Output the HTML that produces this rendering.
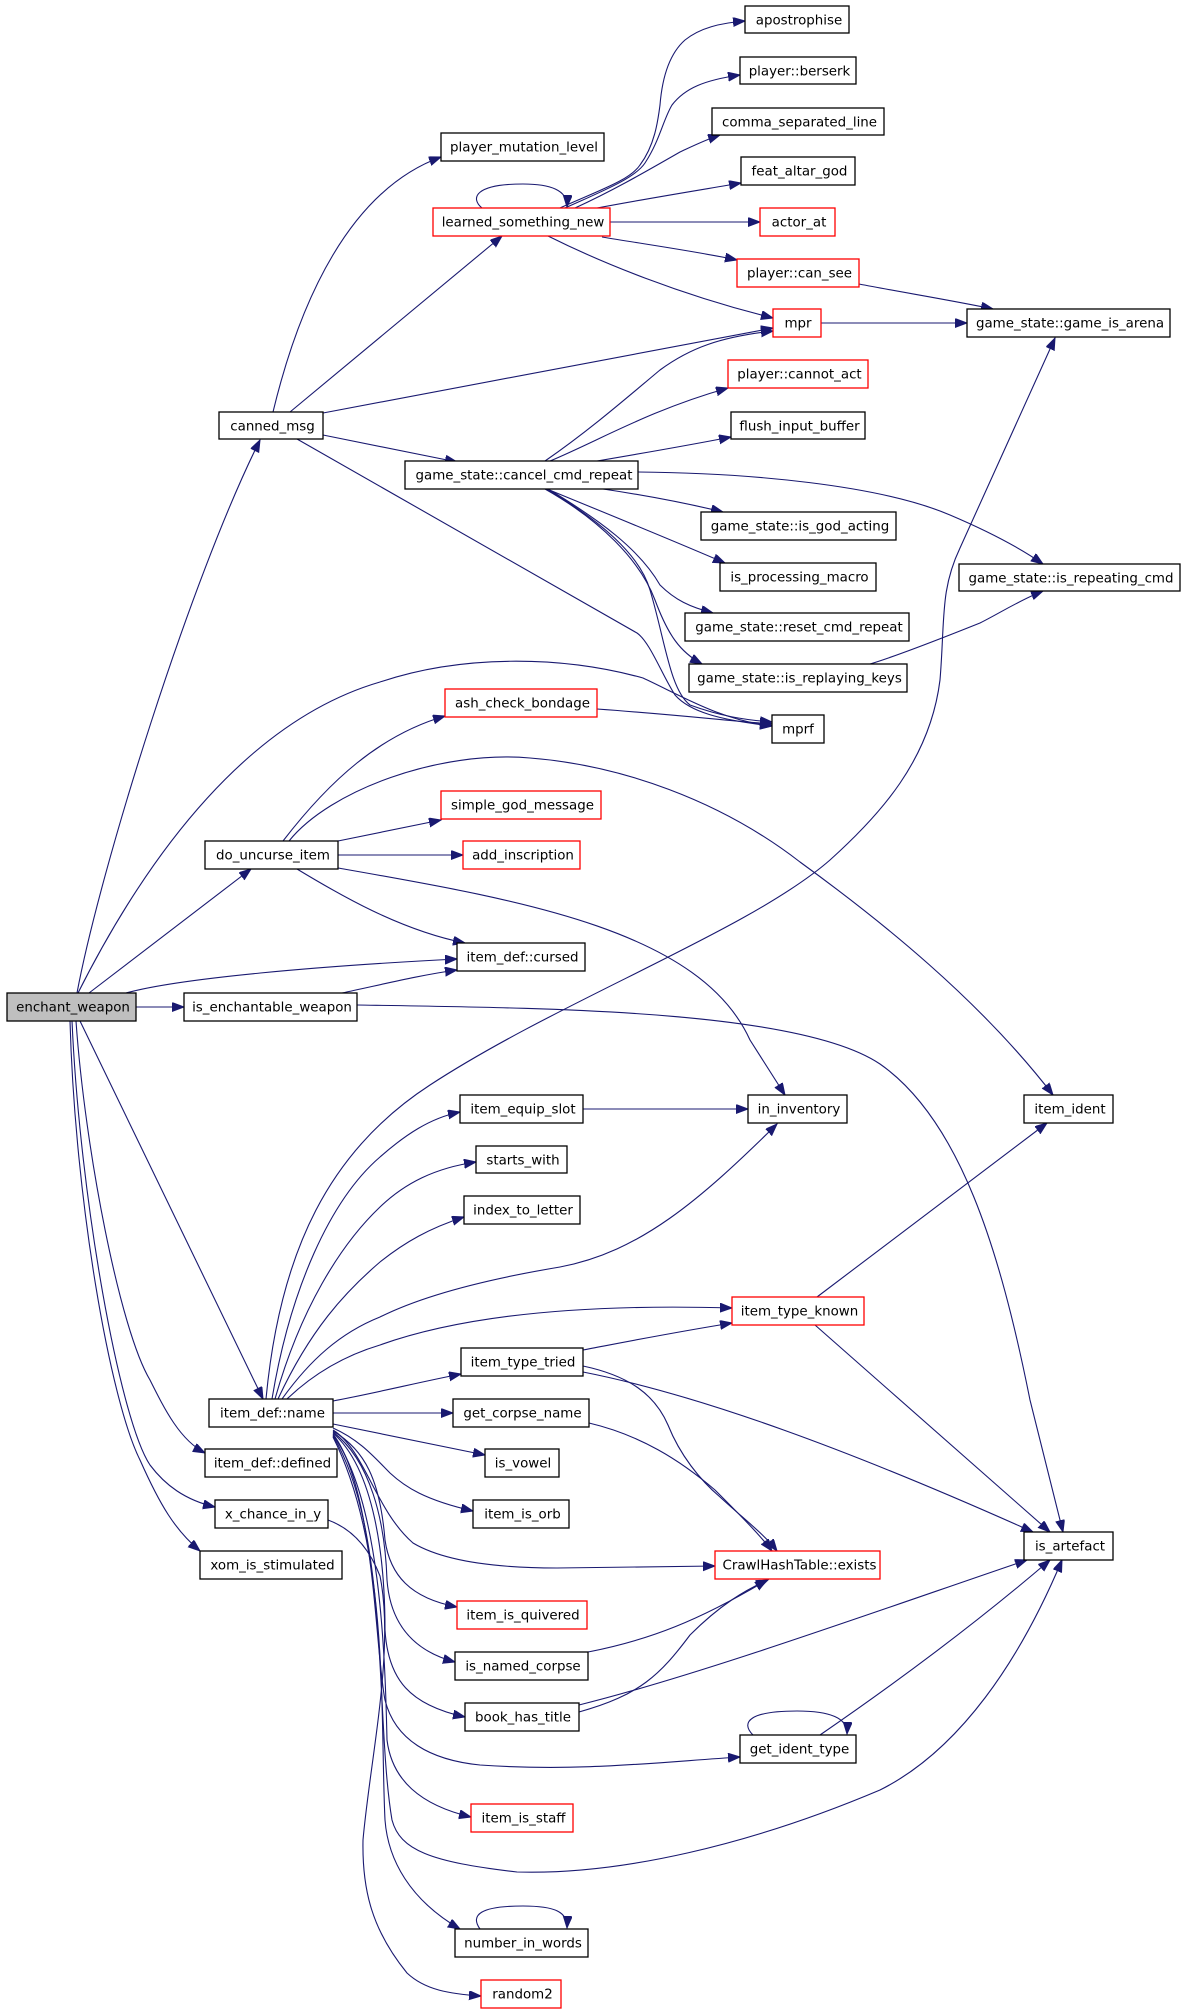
<!DOCTYPE html>
<html><head><meta charset="utf-8"><style>
html,body{margin:0;padding:0;background:#fff;}
svg{display:block;}
text{font-family:"DejaVu Sans","Liberation Sans",sans-serif;font-size:13.4px;fill:#000;}
.e{fill:none;stroke:#191970;stroke-width:1.1;marker-end:url(#a);}
.n{fill:#fff;stroke:#000;stroke-width:1.3;}
.r{fill:#fff;stroke:#ff0000;stroke-width:1.3;}
</style></head><body>
<svg width="1184" height="2012" viewBox="0 0 1184 2012" xmlns="http://www.w3.org/2000/svg">
<defs>
<marker id="a" markerWidth="13" markerHeight="10" refX="12" refY="4.5" orient="auto" markerUnits="userSpaceOnUse">
<path d="M0,0 L12,4.5 L0,9 z" fill="#191970" stroke="#191970" stroke-width="1"/>
</marker>
</defs>
<rect x="0" y="0" width="1184" height="2012" fill="#fff"/>
<g>
<!-- enchant_weapon edges -->
<path class="e" d="M77,993 C100,870 190,580 260,440"/>
<path class="e" d="M78,993 C150,850 250,720 380,682 C460,655 560,655 643,678 C680,695 720,720 772,726"/>
<path class="e" d="M89,993 L251,869"/>
<path class="e" d="M126,993 C180,978 320,966 457,959"/>
<path class="e" d="M136,1007 L184,1007"/>
<path class="e" d="M80,1021 L263,1399"/>
<path class="e" d="M76,1021 C85,1150 120,1330 150,1380 C165,1410 180,1440 205,1453"/>
<path class="e" d="M72,1021 C80,1200 120,1420 150,1465 C165,1485 185,1500 215,1507"/>
<path class="e" d="M70,1021 C75,1200 110,1400 140,1460 C160,1505 175,1530 200,1551"/>
<!-- is_enchantable_weapon -->
<path class="e" d="M342,993 C380,985 420,975 457,970"/>
<path class="e" d="M357,1005 C550,1008 800,1010 880,1064 C960,1120 1000,1250 1030,1400 L1063,1532"/>
<!-- do_uncurse_item -->
<path class="e" d="M283,841 C330,780 380,735 445,716"/>
<path class="e" d="M289,841 C330,790 440,750 530,758 C620,765 720,800 800,862 C880,920 980,1000 1053,1095"/>
<path class="e" d="M338,841 L441,820"/>
<path class="e" d="M338,855 L463,855"/>
<path class="e" d="M338,868 C520,900 700,930 750,1040 L785,1095"/>
<path class="e" d="M297,869 C340,895 400,930 465,943"/>
<!-- canned_msg -->
<path class="e" d="M273,412 C300,300 350,190 441,157"/>
<path class="e" d="M290,412 L502,236"/>
<path class="e" d="M323,413 L773,328"/>
<path class="e" d="M323,435 L457,462"/>
<path class="e" d="M297,439 L637,633 C650,642 662,675 675,695 C690,712 720,720 772,726"/>
<!-- learned_something_new -->
<path class="e" d="M482,208 C470,198 475,184 523,184 C550,184 568,190 567,207"/>
<path class="e" d="M560,208 C600,190 630,180 640,165 C655,145 658,120 660,105 C662,80 668,55 685,40 C700,28 720,23 745,21"/>
<path class="e" d="M565,208 C605,190 635,178 645,163 C660,140 663,120 672,105 C685,88 705,80 740,75"/>
<path class="e" d="M575,208 C610,192 640,175 680,152 C695,145 705,140 720,135"/>
<path class="e" d="M597,208 C650,198 700,190 741,183"/>
<path class="e" d="M610,222 L760,222"/>
<path class="e" d="M602,237 C650,245 700,252 737,260"/>
<path class="e" d="M548,236 C600,262 680,295 773,318"/>
<!-- can_see / mpr -->
<path class="e" d="M859,284 C900,292 950,300 993,309"/>
<path class="e" d="M821,323 L967,323"/>
<!-- cancel_cmd_repeat -->
<path class="e" d="M545,461 C590,430 630,395 660,370 C690,348 720,337 773,331"/>
<path class="e" d="M550,461 C600,440 650,410 728,388"/>
<path class="e" d="M597,461 C650,452 690,445 731,437"/>
<path class="e" d="M638,472 C750,473 880,485 950,515 C990,532 1020,548 1043,564"/>
<path class="e" d="M603,489 C650,496 690,504 723,512"/>
<path class="e" d="M547,489 C610,515 660,535 725,563"/>
<path class="e" d="M548,489 C600,520 640,550 660,585 C675,600 690,607 713,613"/>
<path class="e" d="M545,489 C600,520 640,560 655,600 C668,635 680,652 702,664"/>
<path class="e" d="M546,489 C600,520 640,555 650,590 C665,640 670,690 690,705 C720,716 745,720 772,722"/>
<path class="e" d="M597,709 C680,715 720,720 772,724"/>
<path class="e" d="M870,664 C900,655 950,635 980,623 C1000,613 1020,600 1043,591"/>
<!-- item_def::name -->
<path class="e" d="M266,1399 C280,1250 330,1150 430,1085 C560,1000 750,930 830,860 C880,815 930,760 940,680 C945,620 940,590 960,548 L1055,338"/>
<path class="e" d="M272,1399 C290,1290 330,1200 380,1157 C405,1135 430,1118 460,1112"/>
<path class="e" d="M275,1399 C300,1310 340,1245 380,1207 C405,1183 435,1168 476,1162"/>
<path class="e" d="M278,1399 C310,1330 345,1292 380,1262 C405,1242 430,1228 464,1217"/>
<path class="e" d="M282,1399 C310,1360 340,1333 380,1317 C430,1292 500,1277 560,1267 C640,1252 700,1200 777,1124"/>
<path class="e" d="M287,1399 C310,1377 340,1357 380,1345 C450,1320 560,1303 732,1308"/>
<path class="e" d="M333,1401 C380,1392 420,1382 461,1374"/>
<path class="e" d="M333,1413 L453,1413"/>
<path class="e" d="M333,1424 L485,1455"/>
<path class="e" d="M333,1428 C360,1440 375,1458 390,1473 C405,1487 425,1500 473,1511"/>
<path class="e" d="M333,1430 C365,1450 375,1510 413,1543 C445,1562 500,1568 557,1568 L715,1566"/>
<path class="e" d="M333,1431 C365,1450 380,1480 385,1540 C390,1575 410,1598 457,1607"/>
<path class="e" d="M333,1432 C370,1460 385,1520 387,1580 C390,1620 410,1650 455,1662"/>
<path class="e" d="M333,1433 C375,1470 385,1560 385,1630 C388,1680 410,1705 465,1717"/>
<path class="e" d="M333,1434 C375,1490 375,1650 385,1700 C395,1740 430,1760 480,1765 C580,1772 660,1762 740,1757"/>
<path class="e" d="M333,1435 C380,1500 385,1650 387,1740 C392,1780 420,1805 471,1817"/>
<path class="e" d="M333,1436 C390,1530 375,1720 392,1820 C400,1850 430,1862 517,1872 C620,1875 750,1845 880,1790 C960,1750 1020,1660 1062,1560"/>
<path class="e" d="M333,1437 C390,1550 380,1720 385,1820 C388,1860 410,1900 460,1929"/>
<path class="e" d="M328,1520 C350,1528 368,1545 380,1576 C395,1650 370,1760 363,1840 C362,1890 372,1930 407,1973 C425,1990 450,1994 481,1996"/>
<!-- others -->
<path class="e" d="M583,1109 L748,1109"/>
<path class="e" d="M583,1350 C620,1343 670,1333 732,1323"/>
<path class="e" d="M583,1366 C630,1376 655,1395 668,1425 C680,1455 700,1480 720,1497 C745,1520 765,1535 777,1551"/>
<path class="e" d="M583,1372 C700,1395 850,1450 1033,1532"/>
<path class="e" d="M589,1423 C640,1435 680,1460 715,1490 C740,1515 760,1535 772,1551"/>
<path class="e" d="M817,1297 L1047,1123"/>
<path class="e" d="M815,1325 L1050,1532"/>
<path class="e" d="M588,1652 C650,1640 700,1620 767,1580"/>
<path class="e" d="M579,1712 C640,1695 660,1675 690,1635 C720,1605 745,1590 768,1580"/>
<path class="e" d="M579,1705 C700,1675 880,1610 1027,1560"/>
<path class="e" d="M820,1735 C900,1680 980,1620 1050,1560"/>
<path class="e" d="M753,1735 C740,1722 750,1711 797,1711 C830,1711 848,1718 847,1734"/>
<path class="e" d="M480,1929 C470,1915 480,1906 523,1906 C555,1906 568,1912 567,1928"/>
</g>
<g>
<rect x="7" y="993" width="129" height="28" fill="#bfbfbf" stroke="#000" stroke-width="1.3"/><text x="73" y="1011.5" text-anchor="middle">enchant_weapon</text>
<rect class="n" x="219" y="412" width="104" height="27"/><text x="272.5" y="430.5" text-anchor="middle">canned_msg</text>
<rect class="n" x="441" y="133" width="163" height="28"/><text x="524" y="151.5" text-anchor="middle">player_mutation_level</text>
<rect class="r" x="433" y="208" width="177" height="28"/><text x="523" y="226.5" text-anchor="middle">learned_something_new</text>
<rect class="n" x="745" y="6" width="104" height="27"/><text x="799" y="24.5" text-anchor="middle">apostrophise</text>
<rect class="n" x="740" y="57" width="116" height="27"/><text x="799.5" y="75.5" text-anchor="middle">player::berserk</text>
<rect class="n" x="712" y="108" width="172" height="27"/><text x="799.5" y="126.5" text-anchor="middle">comma_separated_line</text>
<rect class="n" x="741" y="157" width="114" height="28"/><text x="799.5" y="175.5" text-anchor="middle">feat_altar_god</text>
<rect class="r" x="760" y="208" width="75" height="28"/><text x="799" y="226.5" text-anchor="middle">actor_at</text>
<rect class="r" x="737" y="259" width="122" height="28"/><text x="799.5" y="277.5" text-anchor="middle">player::can_see</text>
<rect class="r" x="773" y="309" width="48" height="28"/><text x="798" y="327.5" text-anchor="middle">mpr</text>
<rect class="n" x="967" y="309" width="203" height="28"/><text x="1070" y="327.5" text-anchor="middle">game_state::game_is_arena</text>
<rect class="r" x="728" y="360" width="140" height="28"/><text x="799.5" y="378.5" text-anchor="middle">player::cannot_act</text>
<rect class="n" x="731" y="412" width="134" height="27"/><text x="799.5" y="430.5" text-anchor="middle">flush_input_buffer</text>
<rect class="n" x="405" y="461" width="233" height="28"/><text x="524" y="479.5" text-anchor="middle">game_state::cancel_cmd_repeat</text>
<rect class="n" x="701" y="512" width="195" height="28"/><text x="800" y="530.5" text-anchor="middle">game_state::is_god_acting</text>
<rect class="n" x="959" y="564" width="221" height="27"/><text x="1071" y="582.5" text-anchor="middle">game_state::is_repeating_cmd</text>
<rect class="n" x="720" y="563" width="156" height="28"/><text x="799.5" y="581.5" text-anchor="middle">is_processing_macro</text>
<rect class="n" x="685" y="613" width="224" height="28"/><text x="799" y="631.5" text-anchor="middle">game_state::reset_cmd_repeat</text>
<rect class="n" x="689" y="664" width="218" height="28"/><text x="799.5" y="682.5" text-anchor="middle">game_state::is_replaying_keys</text>
<rect class="r" x="445" y="689" width="152" height="28"/><text x="522.5" y="707.5" text-anchor="middle">ash_check_bondage</text>
<rect class="n" x="772" y="715" width="52" height="28"/><text x="798" y="733.5" text-anchor="middle">mprf</text>
<rect class="r" x="441" y="791" width="160" height="28"/><text x="522.5" y="809.5" text-anchor="middle">simple_god_message</text>
<rect class="n" x="205" y="841" width="133" height="28"/><text x="273" y="859.5" text-anchor="middle">do_uncurse_item</text>
<rect class="r" x="463" y="841" width="117" height="28"/><text x="523" y="859.5" text-anchor="middle">add_inscription</text>
<rect class="n" x="457" y="943" width="128" height="28"/><text x="522.5" y="961.5" text-anchor="middle">item_def::cursed</text>
<rect class="n" x="184" y="993" width="173" height="28"/><text x="272" y="1011.5" text-anchor="middle">is_enchantable_weapon</text>
<rect class="n" x="460" y="1095" width="123" height="28"/><text x="523" y="1113.5" text-anchor="middle">item_equip_slot</text>
<rect class="n" x="748" y="1095" width="99" height="28"/><text x="799" y="1113.5" text-anchor="middle">in_inventory</text>
<rect class="n" x="1024" y="1095" width="89" height="28"/><text x="1070" y="1113.5" text-anchor="middle">item_ident</text>
<rect class="n" x="476" y="1146" width="91" height="27"/><text x="523" y="1164.5" text-anchor="middle">starts_with</text>
<rect class="n" x="464" y="1196" width="116" height="28"/><text x="523" y="1214.5" text-anchor="middle">index_to_letter</text>
<rect class="r" x="732" y="1297" width="132" height="28"/><text x="799.5" y="1315.5" text-anchor="middle">item_type_known</text>
<rect class="n" x="461" y="1348" width="122" height="28"/><text x="523" y="1366.5" text-anchor="middle">item_type_tried</text>
<rect class="n" x="209" y="1399" width="124" height="28"/><text x="272.5" y="1417.5" text-anchor="middle">item_def::name</text>
<rect class="n" x="453" y="1399" width="136" height="28"/><text x="522.5" y="1417.5" text-anchor="middle">get_corpse_name</text>
<rect class="n" x="485" y="1449" width="74" height="28"/><text x="523" y="1467.5" text-anchor="middle">is_vowel</text>
<rect class="n" x="205" y="1449" width="132" height="28"/><text x="272.5" y="1467.5" text-anchor="middle">item_def::defined</text>
<rect class="n" x="473" y="1500" width="96" height="28"/><text x="522.5" y="1518.5" text-anchor="middle">item_is_orb</text>
<rect class="n" x="215" y="1500" width="113" height="28"/><text x="273" y="1518.5" text-anchor="middle">x_chance_in_y</text>
<rect class="n" x="1024" y="1532" width="89" height="28"/><text x="1070" y="1550.5" text-anchor="middle">is_artefact</text>
<rect class="r" x="715" y="1551" width="165" height="28"/><text x="799.5" y="1569.5" text-anchor="middle">CrawlHashTable::exists</text>
<rect class="n" x="200" y="1551" width="142" height="28"/><text x="272.5" y="1569.5" text-anchor="middle">xom_is_stimulated</text>
<rect class="r" x="457" y="1601" width="130" height="28"/><text x="523" y="1619.5" text-anchor="middle">item_is_quivered</text>
<rect class="n" x="455" y="1652" width="133" height="28"/><text x="523" y="1670.5" text-anchor="middle">is_named_corpse</text>
<rect class="n" x="465" y="1703" width="114" height="28"/><text x="523" y="1721.5" text-anchor="middle">book_has_title</text>
<rect class="n" x="740" y="1735" width="116" height="28"/><text x="799.5" y="1753.5" text-anchor="middle">get_ident_type</text>
<rect class="r" x="471" y="1804" width="102" height="28"/><text x="523.5" y="1822.5" text-anchor="middle">item_is_staff</text>
<rect class="n" x="455" y="1929" width="133" height="28"/><text x="523" y="1947.5" text-anchor="middle">number_in_words</text>
<rect class="r" x="481" y="1980" width="80" height="28"/><text x="522.5" y="1998.5" text-anchor="middle">random2</text>
</g>
</svg>
</body></html>
